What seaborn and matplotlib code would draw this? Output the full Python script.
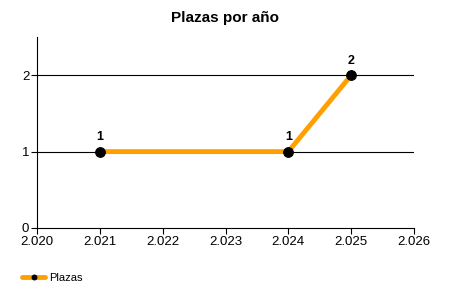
import matplotlib
matplotlib.use("Agg")
import matplotlib.pyplot as plt
import seaborn as sns
import pandas as pd

years = [2021, 2024, 2025]
plazas = [1, 1, 2]
x_ticks = [2020, 2021, 2022, 2023, 2024, 2025, 2026]
x_tick_labels = ["2.020", "2.021", "2.022", "2.023", "2.024", "2.025", "2.026"]
y_ticks = [0, 1, 2]
title = "Plazas por año"
series_name = "Plazas"

sns.set_style("white")
plt.rcParams["font.family"] = ["Liberation Sans", "DejaVu Sans"]
plt.rcParams["text.color"] = "black"
plt.rcParams["xtick.color"] = "black"
plt.rcParams["ytick.color"] = "black"
plt.rcParams["axes.labelcolor"] = "black"

df = pd.DataFrame({"year": years, "plazas": plazas})

fig = plt.figure(figsize=(4.5, 3), dpi=100)
ax = fig.add_axes([37/450, 1-228/300, (414-37)/450, (228-37)/300])

for yv in y_ticks[1:]:
    ax.axhline(yv, color="black", lw=0.8, zorder=1)

sns.lineplot(data=df, x="year", y="plazas", ax=ax, color="#FFA000", lw=3.5,
             marker="o", markersize=7, markerfacecolor="black",
             markeredgecolor="black", label=series_name, zorder=3)

for xv, yv in zip(years, plazas):
    ax.annotate(str(yv), (xv, yv), xytext=(0, 6), textcoords="offset points",
                ha="center", va="bottom", fontsize=9, fontweight="bold", color="black")

ax.set_xlim(2020, 2026)
ax.set_ylim(0, 2.5)
ax.set_xticks(x_ticks)
ax.set_xticklabels(x_tick_labels)
ax.set_yticks(y_ticks)
ax.tick_params(axis="both", labelsize=9.5, length=4, width=0.8, color="black",
               labelcolor="black", direction="out", bottom=True, left=True, pad=1.5)
ax.set_xlabel("")
ax.set_ylabel("")
for s in ["top", "right"]:
    ax.spines[s].set_visible(False)
for s in ["left", "bottom"]:
    ax.spines[s].set_color("black")
    ax.spines[s].set_linewidth(0.8)

fig.text(225/450, 1-18/300, title, ha="center", va="center", fontsize=11,
         fontweight="bold", color="black")

leg = ax.legend(loc="center left", bbox_to_anchor=(18/450, 1-278/300),
                bbox_transform=fig.transFigure, frameon=False, fontsize=8,
                handlelength=2.0, markerscale=0.5, handletextpad=0.4,
                borderaxespad=0)
for t in leg.get_texts():
    t.set_color("black")
fig.savefig("out.png", dpi=100)
